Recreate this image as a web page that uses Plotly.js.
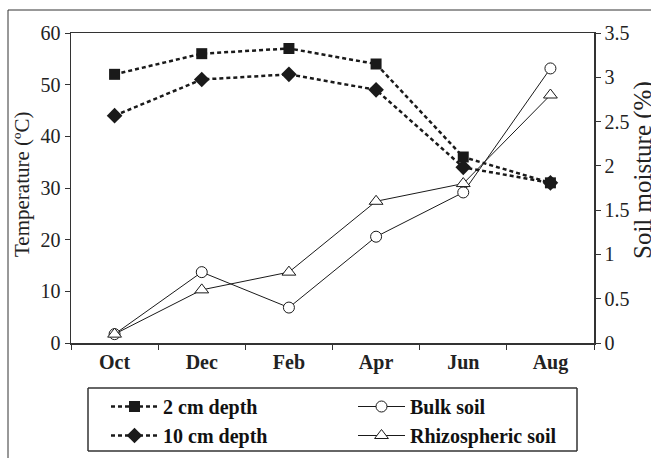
<!DOCTYPE html>
<html>
<head>
<meta charset="utf-8">
<script src="https://cdn.plot.ly/plotly-3.0.1.min.js"></script>
<style>
  html, body { margin: 0; padding: 0; background: #fff; }
  #chart { width: 651px; height: 458px; }
</style>
</head>
<body>
<div id="chart"></div>
<script>
const months = ["Oct", "Dec", "Feb", "Apr", "Jun", "Aug"];
const temp2cm = [52, 56, 57, 54, 36, 31];
const temp10cm = [44, 51, 52, 49, 34, 31];
const moistBulk = [0.1, 0.8, 0.4, 1.2, 1.7, 3.1];
const moistRhizo = [0.1, 0.6, 0.8, 1.6, 1.8, 2.8];
const leftTicks = [0, 10, 20, 30, 40, 50, 60];
const rightTicks = [0, 0.5, 1, 1.5, 2, 2.5, 3, 3.5];

const ink = "#1a1a1a";
const serif = "Liberation Serif, Times New Roman, serif";

// plot area in pixels: left 71, right 594, top 33, bottom 343
const PL = 71, PW = 523, PB = 343, PH = 310;
const px = v => (v - PL) / PW;
const py = v => (PB - v) / PH;

const traces = [
  {
    x: months, y: temp10cm, name: "10 cm depth", type: "scatter", mode: "lines+markers",
    line: {color: ink, width: 2.5, dash: "4px,3px"},
    marker: {symbol: "diamond", size: 12, color: ink},
    xaxis: "x", yaxis: "y", legend: "legend", legendrank: 2
  },
  {
    x: months, y: temp2cm, name: "2 cm depth", type: "scatter", mode: "lines+markers",
    line: {color: ink, width: 2.5, dash: "4px,3px"},
    marker: {symbol: "square", size: 11, color: ink},
    xaxis: "x", yaxis: "y", legend: "legend", legendrank: 1
  },
  {
    x: months, y: moistBulk, name: "Bulk soil", type: "scatter", mode: "lines+markers",
    line: {color: ink, width: 1},
    marker: {symbol: "circle", size: 11, color: "#fff", line: {color: ink, width: 1}},
    xaxis: "x", yaxis: "y2", legend: "legend2", legendrank: 1
  },
  {
    x: months, y: moistRhizo, name: "Rhizospheric soil", type: "scatter", mode: "lines+markers",
    line: {color: ink, width: 1},
    marker: {symbol: "triangle-up", size: 12, color: "#fff", line: {color: ink, width: 1}},
    xaxis: "x", yaxis: "y2", legend: "legend2", legendrank: 2
  }
];

const axisLine = "#333";
const tickFont = {family: serif, size: 20, color: "#222"};
const legendFont = {family: serif, size: 20, color: "#111", weight: "bold"};

const legendBase = {
  orientation: "v", traceorder: "normal",
  xanchor: "left", yanchor: "top",
  borderwidth: 0, bgcolor: "rgba(255,255,255,0)",
  font: legendFont, itemwidth: 47, tracegroupgap: 0
};

const boxL = px(88), boxR = px(577), boxB = py(451), boxT = py(388);
const frameStyle = {color: "#333", width: 1.5};

const layout = {
  width: 651, height: 458,
  margin: {l: 71, r: 57, t: 33, b: 115, autoexpand: false},
  paper_bgcolor: "#fff", plot_bgcolor: "#fff",
  showlegend: true,
  xaxis: {
    type: "category", categoryarray: months, categoryorder: "array",
    range: [-0.5, 5.5], tickson: "boundaries",
    showline: true, linecolor: axisLine, linewidth: 1.5, mirror: true,
    ticks: "outside", ticklen: 5, tickcolor: axisLine, tickwidth: 1,
    showgrid: false, zeroline: false,
    tickfont: {family: serif, size: 20, color: "#222", weight: "bold"}
  },
  xaxis2: {
    overlaying: "x", type: "linear", range: [-0.5, 5.5],
    tickvals: [-0.5, 0.5, 1.5, 2.5, 3.5, 4.5, 5.5],
    ticks: "inside", ticklen: 5, tickcolor: axisLine, tickwidth: 1,
    showticklabels: false, showline: false, showgrid: false, zeroline: false,
    side: "bottom", anchor: "y"
  },
  yaxis: {
    range: [0, 60], tickvals: leftTicks,
    showline: true, linecolor: axisLine, linewidth: 1.5,
    ticks: "outside", ticklen: 5, tickcolor: axisLine, tickwidth: 1,
    showgrid: false, zeroline: false, tickfont: tickFont
  },
  yaxis2: {
    overlaying: "y", side: "right", range: [0, 3.5], tickvals: rightTicks,
    showline: true, linecolor: axisLine, linewidth: 1.5,
    ticks: "outside", ticklen: 5, tickcolor: axisLine, tickwidth: 1,
    showgrid: false, zeroline: false, tickfont: tickFont
  },
  yaxis3: {
    overlaying: "y", side: "left", range: [0, 60], tickvals: leftTicks,
    ticks: "inside", ticklen: 5, tickcolor: axisLine, tickwidth: 1,
    showticklabels: false, showline: false, showgrid: false, zeroline: false
  },
  yaxis4: {
    overlaying: "y", side: "right", range: [0, 3.5], tickvals: rightTicks,
    ticks: "inside", ticklen: 5, tickcolor: axisLine, tickwidth: 1,
    showticklabels: false, showline: false, showgrid: false, zeroline: false
  },
  legend: Object.assign({}, legendBase, {x: px(106), y: py(387)}),
  legend2: Object.assign({}, legendBase, {x: px(353), y: py(387)}),
  annotations: [
    {
      text: "Temperature (ºC)", xref: "paper", yref: "paper",
      x: px(22), y: py(184), xanchor: "center", yanchor: "middle",
      textangle: -90, showarrow: false,
      font: {family: serif, size: 21, color: "#222"}
    },
    {
      text: "Soil moisture (%)", xref: "paper", yref: "paper",
      x: px(643), y: py(170), xanchor: "center", yanchor: "middle",
      textangle: -90, showarrow: false,
      font: {family: serif, size: 25, color: "#222"}
    }
  ],
  shapes: [
    {
      type: "rect", xref: "paper", yref: "paper",
      x0: px(8), x1: 1.3, y0: -0.6, y1: py(10),
      line: {color: "#333", width: 1}, fillcolor: "rgba(0,0,0,0)", layer: "below"
    },
    {type: "line", xref: "paper", yref: "paper", x0: boxL, x1: boxR, y0: boxT, y1: boxT, line: frameStyle},
    {type: "line", xref: "paper", yref: "paper", x0: boxL, x1: boxR, y0: boxB, y1: boxB, line: frameStyle},
    {type: "line", xref: "paper", yref: "paper", x0: boxL, x1: boxL, y0: boxB, y1: boxT, line: frameStyle},
    {type: "line", xref: "paper", yref: "paper", x0: boxR, x1: boxR, y0: boxB, y1: boxT, line: frameStyle}
  ]
};

Plotly.newPlot("chart", traces, layout, {displayModeBar: false, staticPlot: true});
</script>
</body>
</html>
